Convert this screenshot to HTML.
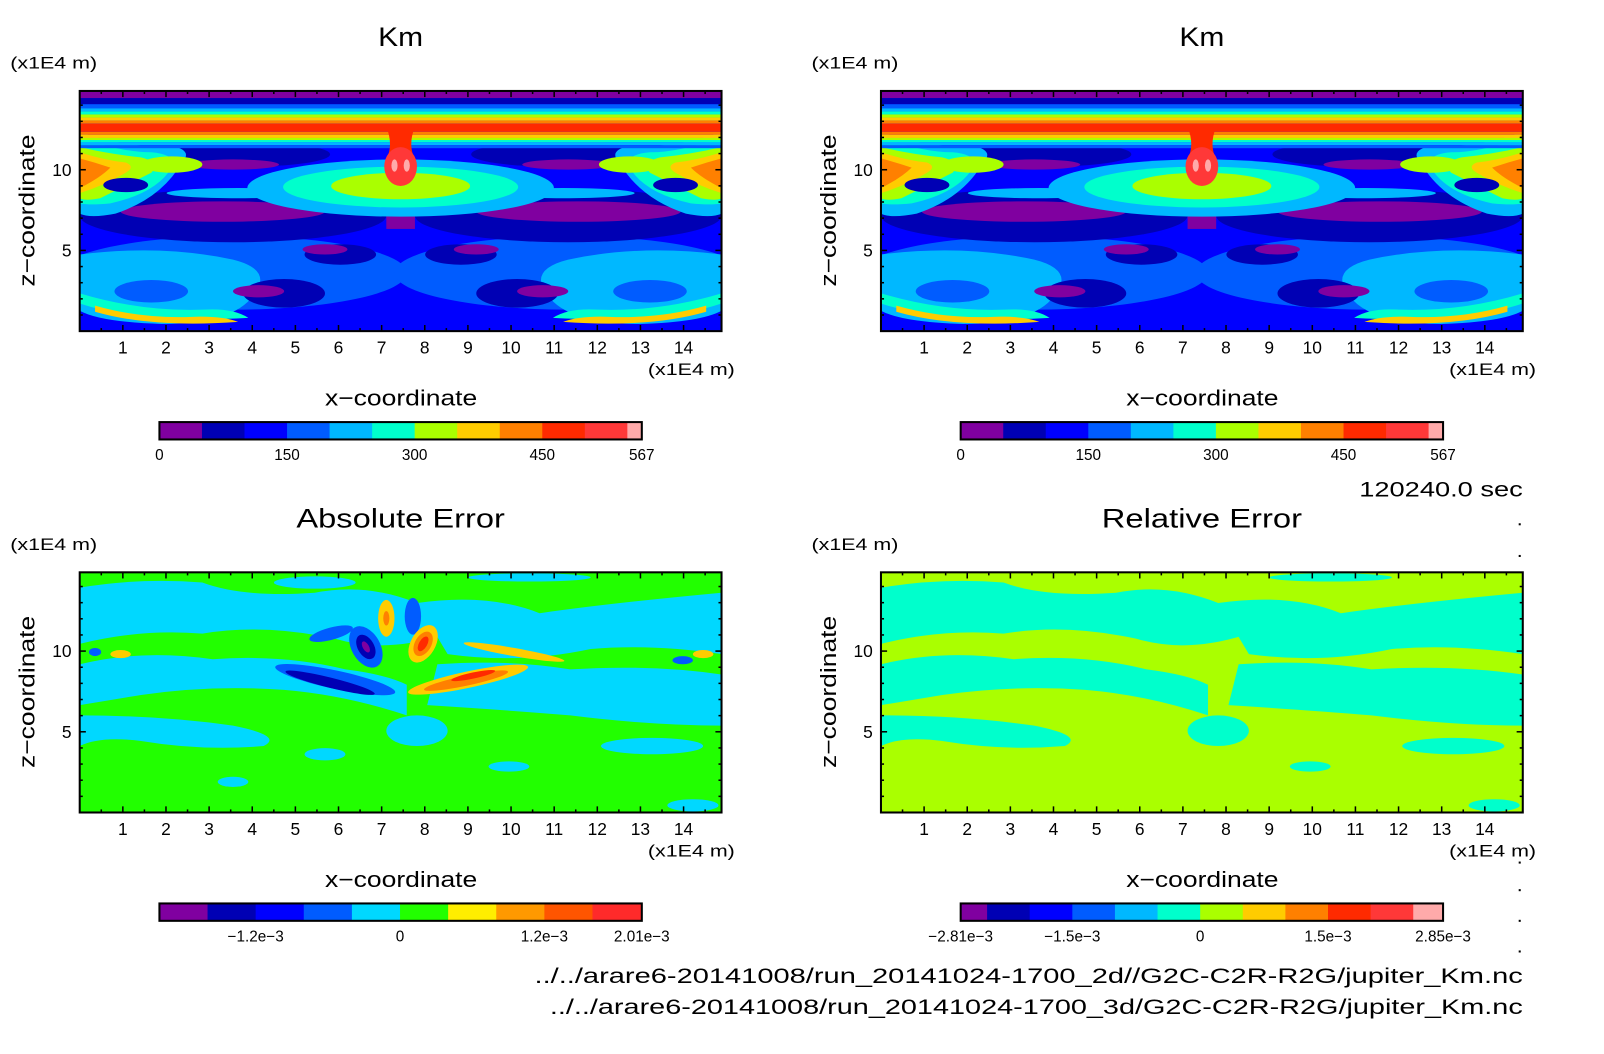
<!DOCTYPE html>
<html><head><meta charset="utf-8"><style>
body{margin:0;background:#fff;}
svg{display:block;font-family:"Liberation Sans",sans-serif;}
</style></head><body>
<svg id="fig" width="1604" height="1054" viewBox="0 0 1604 1054">
<defs>
<clipPath id="pclip"><rect x="0" y="0" width="628" height="235"/></clipPath>
<g id="kmField">
 <g clip-path="url(#pclip)">
 <rect x="0" y="0" width="628" height="235" fill="#0000ff"/>
 <g id="kmHalf">
  <ellipse cx="150" cy="178" rx="170" ry="36" fill="#005cff"/>
  <path d="M0,160 Q80,150 150,165 Q190,175 170,200 Q150,228 80,228 Q20,226 0,215Z" fill="#00b8ff"/>
  <ellipse cx="70" cy="196" rx="36" ry="11" fill="#005cff"/>
  <path d="M0,208 Q60,228 165,222 Q150,212 120,214 Q60,216 0,198Z" fill="#00ffcc"/>
  <path d="M15,216 Q70,232 155,226 Q140,220 110,221 Q60,223 15,210Z" fill="#ffcc00"/>
  <ellipse cx="200" cy="198" rx="40" ry="14" fill="#0000b4"/>
  <ellipse cx="175" cy="196" rx="25" ry="6" fill="#8000a0"/>
  <ellipse cx="255" cy="160" rx="35" ry="10" fill="#0000b4"/>
  <ellipse cx="240" cy="155" rx="22" ry="5" fill="#8000a0"/>
  <ellipse cx="150" cy="122" rx="150" ry="26" fill="#0000b4"/>
  <ellipse cx="140" cy="118" rx="100" ry="10" fill="#8000a0"/>
  <ellipse cx="155" cy="100" rx="70" ry="5" fill="#00b8ff"/>
  <ellipse cx="165" cy="62" rx="80" ry="12" fill="#0000b4"/>
  <ellipse cx="150" cy="72" rx="45" ry="5" fill="#8000a0"/>
  <ellipse cx="150" cy="48" rx="40" ry="5" fill="#8000a0"/>
  <path d="M0,40 Q40,55 95,55 Q110,60 100,70 Q80,105 35,120 Q10,125 0,120Z" fill="#00b8ff"/>
  <path d="M0,45 Q40,60 70,60 Q95,62 90,75 Q75,100 30,110 Q10,112 0,110Z" fill="#00ffcc"/>
  <path d="M0,55 Q30,62 60,65 Q80,70 70,80 Q50,90 20,105 Q5,108 0,105Z" fill="#aaff00"/>
  <path d="M0,60 Q25,68 45,70 Q55,74 45,80 Q25,92 0,100Z" fill="#ffcc00"/>
  <path d="M0,66 Q15,70 30,75 Q20,85 0,95Z" fill="#ff8000"/>
  <ellipse cx="45" cy="92" rx="22" ry="7" fill="#0000b4"/>
  <ellipse cx="90" cy="72" rx="30" ry="8" fill="#aaff00"/>
 </g>
 <use href="#kmHalf" transform="translate(628,0) scale(-1,1)"/>
 <rect x="0" y="0" width="628" height="7" fill="#8000a0"/>
 <rect x="0" y="7" width="628" height="6" fill="#0000b4"/>
 <rect x="0" y="13" width="628" height="4" fill="#005cff"/>
 <rect x="0" y="17" width="628" height="3" fill="#00b8ff"/>
 <rect x="0" y="20" width="628" height="3" fill="#00ffcc"/>
 <rect x="0" y="23" width="628" height="3" fill="#aaff00"/>
 <rect x="0" y="26" width="628" height="3" fill="#ffcc00"/>
 <rect x="0" y="29" width="628" height="3" fill="#ff8000"/>
 <rect x="0" y="32" width="628" height="8" fill="#ff2a00"/>
 <rect x="0" y="40" width="628" height="3" fill="#ff8000"/>
 <rect x="0" y="43" width="628" height="3" fill="#ffcc00"/>
 <rect x="0" y="46" width="628" height="2" fill="#aaff00"/>
 <rect x="0" y="48" width="628" height="2" fill="#00ffcc"/>
 <rect x="0" y="50" width="628" height="3" fill="#00b8ff"/>
 <rect x="0" y="53" width="628" height="3" fill="#005cff"/>
 <rect x="300" y="110" width="28" height="25" fill="#8000a0"/>
 <ellipse cx="314" cy="95" rx="150" ry="28" fill="#00b8ff"/>
 <ellipse cx="314" cy="94" rx="115" ry="20" fill="#00ffcc"/>
 <ellipse cx="314" cy="93" rx="68" ry="13" fill="#aaff00"/>
 <path d="M300,35 L328,35 Q322,50 326,62 L302,62 Q306,50 300,35Z" fill="#ff2a00"/>
 <ellipse cx="314" cy="74" rx="16" ry="19" fill="#ff3838"/>
 <ellipse cx="308" cy="73" rx="3" ry="6" fill="#ffaaaa"/>
 <ellipse cx="320" cy="73" rx="3" ry="6" fill="#ffaaaa"/>
 </g>
</g>
<g id="absField">
 <g clip-path="url(#pclip)">
 <rect x="0" y="0" width="628" height="235" fill="#22ff00"/>
 <g fill="#00d8ff">
  <path d="M0,15 Q60,5 120,10 Q160,25 230,20 Q280,10 330,30 L360,60 Q300,80 250,65 Q180,50 120,60 Q60,55 0,70Z"/>
  <path d="M0,90 Q60,75 130,85 Q200,80 260,95 Q300,100 320,110 L320,140 Q260,120 200,115 Q130,110 60,120 Q30,125 0,130Z"/>
  <path d="M0,140 Q80,140 150,150 Q200,160 180,170 Q120,175 60,165 Q20,160 0,170Z"/>
  <path d="M330,30 Q400,20 450,40 Q520,30 628,20 L628,80 Q560,70 500,75 Q430,90 360,80Z"/>
  <path d="M350,90 Q420,85 480,95 Q560,90 628,100 L628,150 Q560,150 480,140 Q420,135 340,130Z"/>
  <ellipse cx="330" cy="155" rx="30" ry="15"/>
  <ellipse cx="560" cy="170" rx="50" ry="8"/>
  <ellipse cx="230" cy="10" rx="40" ry="6"/>
  <ellipse cx="440" cy="5" rx="60" ry="4"/>
  <ellipse cx="240" cy="178" rx="20" ry="6"/>
  <ellipse cx="420" cy="190" rx="20" ry="5"/>
  <ellipse cx="150" cy="205" rx="15" ry="5"/>
  <ellipse cx="600" cy="228" rx="25" ry="6"/>
  <ellipse cx="120" cy="238" rx="15" ry="4"/>
 </g>
 <g>
  <ellipse cx="246" cy="60" rx="22" ry="6" fill="#005cff" transform="rotate(-15 246 60)"/>
  <ellipse cx="250" cy="105" rx="60" ry="9" fill="#005cff" transform="rotate(12 250 105)"/>
  <ellipse cx="245" cy="108" rx="45" ry="5" fill="#0000b4" transform="rotate(14 245 108)"/>
  <ellipse cx="280" cy="73" rx="14" ry="22" fill="#005cff" transform="rotate(-30 280 73)"/>
  <ellipse cx="280" cy="73" rx="8" ry="13" fill="#0000b4" transform="rotate(-30 280 73)"/>
  <ellipse cx="280" cy="73" rx="3" ry="6" fill="#8000a0" transform="rotate(-30 280 73)"/>
  <ellipse cx="300" cy="45" rx="8" ry="18" fill="#ffcc00"/>
  <ellipse cx="300" cy="45" rx="3" ry="7" fill="#ff8000"/>
  <ellipse cx="326" cy="43" rx="8" ry="18" fill="#005cff"/>
  <ellipse cx="336" cy="70" rx="12" ry="20" fill="#ffcc00" transform="rotate(30 336 70)"/>
  <ellipse cx="336" cy="70" rx="8" ry="13" fill="#ff8000" transform="rotate(30 336 70)"/>
  <ellipse cx="336" cy="70" rx="4" ry="8" fill="#ff2a00" transform="rotate(30 336 70)"/>
  <ellipse cx="380" cy="105" rx="60" ry="8" fill="#ffcc00" transform="rotate(-12 380 105)"/>
  <ellipse cx="378" cy="106" rx="42" ry="5" fill="#ff8000" transform="rotate(-12 378 106)"/>
  <ellipse cx="385" cy="101" rx="22" ry="3" fill="#ff2a00" transform="rotate(-12 385 101)"/>
  <ellipse cx="425" cy="78" rx="50" ry="4" fill="#ffcc00" transform="rotate(10 425 78)"/>
  <ellipse cx="40" cy="80" rx="10" ry="4" fill="#ffcc00"/>
  <ellipse cx="610" cy="80" rx="10" ry="4" fill="#ffcc00"/>
  <ellipse cx="15" cy="78" rx="6" ry="4" fill="#005cff"/>
  <ellipse cx="590" cy="86" rx="10" ry="4" fill="#005cff"/>
 </g>
 </g>
</g>
<g id="relField">
 <g clip-path="url(#pclip)">
 <rect x="0" y="0" width="628" height="235" fill="#aaff00"/>
 <g fill="#00ffcc">
  <path d="M0,15 Q60,5 120,10 Q160,25 230,20 Q280,10 330,30 L360,60 Q300,80 250,65 Q180,50 120,60 Q60,55 0,70Z"/>
  <path d="M0,90 Q60,75 130,85 Q200,80 260,95 Q300,100 320,110 L320,140 Q260,120 200,115 Q130,110 60,120 Q30,125 0,130Z"/>
  <path d="M0,140 Q80,140 150,150 Q200,160 180,170 Q120,175 60,165 Q20,160 0,170Z"/>
  <path d="M330,30 Q400,20 450,40 Q520,30 628,20 L628,80 Q560,70 500,75 Q430,90 360,80Z"/>
  <path d="M350,90 Q420,85 480,95 Q560,90 628,100 L628,150 Q560,150 480,140 Q420,135 340,130Z"/>
  <ellipse cx="330" cy="155" rx="30" ry="15"/>
  <ellipse cx="560" cy="170" rx="50" ry="8"/>
  <ellipse cx="440" cy="5" rx="60" ry="4"/>
  <ellipse cx="420" cy="190" rx="20" ry="5"/>
  <ellipse cx="600" cy="228" rx="25" ry="6"/>
 </g>
 </g>
</g>
</defs>
<g transform="scale(1.022)">
<g id="content"></g>
<text x="1490" y="486" font-size="21" text-anchor="end" textLength="160" lengthAdjust="spacingAndGlyphs">120240.0 sec</text>
<text x="1490" y="962" font-size="21" text-anchor="end" textLength="967" lengthAdjust="spacingAndGlyphs">../../arare6-20141008/run_20141024-1700_2d//G2C-C2R-R2G/jupiter_Km.nc</text>
<text x="1490" y="992" font-size="21" text-anchor="end" textLength="952" lengthAdjust="spacingAndGlyphs">../../arare6-20141008/run_20141024-1700_3d/G2C-C2R-R2G/jupiter_Km.nc</text>
</g>
</svg>
<script>
const xTicks=[1,2,3,4,5,6,7,8,9,10,11,12,13,14];
const zTicks=[5,10];
const kmColors=["#8000a0","#0000b4","#0000ff","#005cff","#00b8ff","#00ffcc","#aaff00","#ffcc00","#ff8000","#ff2a00","#ff3838","#ffaaaa"];
const kmLevels=[0,50,100,150,200,250,300,350,400,450,500,550,567];
const kmLabels=[0,150,300,450,567];
const absColors=["#8000a0","#0000b4","#0000ff","#005cff","#00d8ff","#22ff00","#ffee00","#ff9900","#ff5500","#ff2a2a"];
const absLevels=[-2.0e-3,-1.6e-3,-1.2e-3,-0.8e-3,-0.4e-3,0,0.4e-3,0.8e-3,1.2e-3,1.6e-3,2.01e-3];
const absLabelVals=[-1.2e-3,0,1.2e-3,2.01e-3];
const absLabels=["\u22121.2e\u22123","0","1.2e\u22123","2.01e\u22123"];
const relColors=kmColors;
const relLevels=[-2.81e-3,-2.5e-3,-2.0e-3,-1.5e-3,-1.0e-3,-0.5e-3,0,0.5e-3,1.0e-3,1.5e-3,2.0e-3,2.5e-3,2.85e-3];
const relLabelVals=[-2.81e-3,-1.5e-3,0,1.5e-3,2.85e-3];
const relLabels=["\u22122.81e\u22123","\u22121.5e\u22123","0","1.5e\u22123","2.85e\u22123"];
const XMAX=14.88, ZMAX=14.88;
const NS="http://www.w3.org/2000/svg";
const root=document.getElementById('content');
function mk(tag,attrs,parent,text){const e=document.createElementNS(NS,tag);for(const k in attrs)e.setAttribute(k,attrs[k]);if(text!==undefined)e.textContent=text;(parent||root).appendChild(e);return e;}
function panel(px,py,field,title,titleLen,name,cbColors,cbLevels,cbVals,cbLabels){
  const W=628,H=235;
  const g=mk('g',{transform:`translate(${px},${py})`});
  
  
  const sx=v=>v/XMAX*W, sz=v=>H-v/ZMAX*H;
  const u=mk('use',{href:'#'+field},g);
  
  
  const fr=mk('rect',{x:0,y:0,width:W,height:H,fill:'none',stroke:'#000','stroke-width':2},g);
  
  
  for(let v=0.5;v<XMAX;v+=0.5){const big=Number.isInteger(v);const L=big?6:3;
    mk('line',{x1:sx(v),x2:sx(v),y1:0,y2:L,stroke:'#000','stroke-width':1.5},g);
    mk('line',{x1:sx(v),x2:sx(v),y1:H,y2:H-L,stroke:'#000','stroke-width':1.5},g);}
  for(let v=1;v<ZMAX;v+=1){const big=v%5==0;const L=big?6:3;
    mk('line',{x1:0,x2:L,y1:sz(v),y2:sz(v),stroke:'#000','stroke-width':1.5},g);
    mk('line',{x1:W,x2:W-L,y1:sz(v),y2:sz(v),stroke:'#000','stroke-width':1.5},g);}
  xTicks.forEach(v=>{const t=mk('text',{x:sx(v),y:H+22,'font-size':17,'text-anchor':'middle'},g,String(v));
    
    });
  zTicks.forEach(v=>{const t=mk('text',{x:-8,y:sz(v)+6,'font-size':17,'text-anchor':'end'},g,String(v));
    
    });
  let t=mk('text',{x:W/2-titleLen/2,y:-44,'font-size':26,textLength:titleLen,lengthAdjust:'spacingAndGlyphs'},g,title);
  
  
  t=mk('text',{x:-68,y:-22,'font-size':16,textLength:85,lengthAdjust:'spacingAndGlyphs'},g,'(x1E4 m)');
  
  
  t=mk('text',{x:W-72,y:H+43,'font-size':16,textLength:85,lengthAdjust:'spacingAndGlyphs'},g,'(x1E4 m)');
  
  
  t=mk('text',{x:W/2-74,y:H+73,'font-size':22,textLength:149,lengthAdjust:'spacingAndGlyphs'},g,'x\u2212coordinate');
  
  
  t=mk('text',{x:-74,y:0,'font-size':22,textLength:149,lengthAdjust:'spacingAndGlyphs',transform:`translate(-44,${H/2}) rotate(-90)`},g,'z\u2212coordinate');
  
  
  const cbX=78,cbW=472,cbY=H+89,cbH=17;
  const lo=cbLevels[0],hi=cbLevels[cbLevels.length-1];
  const cx=v=>cbX+(v-lo)/(hi-lo)*cbW;
  const cb=mk('g',{},g);
  
  
  cbColors.forEach((c,i)=>{const r=mk('rect',{x:cx(cbLevels[i]),y:cbY,width:cx(cbLevels[i+1])-cx(cbLevels[i])+0.5,height:cbH,fill:c},cb);
    
    });
  mk('rect',{x:cbX,y:cbY,width:cbW,height:cbH,fill:'none',stroke:'#000','stroke-width':2},cb);
  cbVals.forEach((v,i)=>{const tl=mk('text',{x:cx(v),y:cbY+cbH+20,'font-size':15,'text-anchor':'middle'},cb,cbLabels[i]);
    
    });
}
panel(78,89,'kmField','Km',44,'km-2d',kmColors,kmLevels,kmLabels,kmLabels.map(String));
panel(862,89,'kmField','Km',44,'km-3d',kmColors,kmLevels,kmLabels,kmLabels.map(String));
panel(78,560,'absField','Absolute Error',204,'absolute-error',absColors,absLevels,absLabelVals,absLabels);
panel(862,560,'relField','Relative Error',196,'relative-error',relColors,relLevels,relLabelVals,relLabels);
[512,543,843,870,900,930].forEach(y=>{const d=mk('rect',{x:1486,y:y,width:2,height:2,fill:'#000'});
  
  });
</script>
</body></html>
